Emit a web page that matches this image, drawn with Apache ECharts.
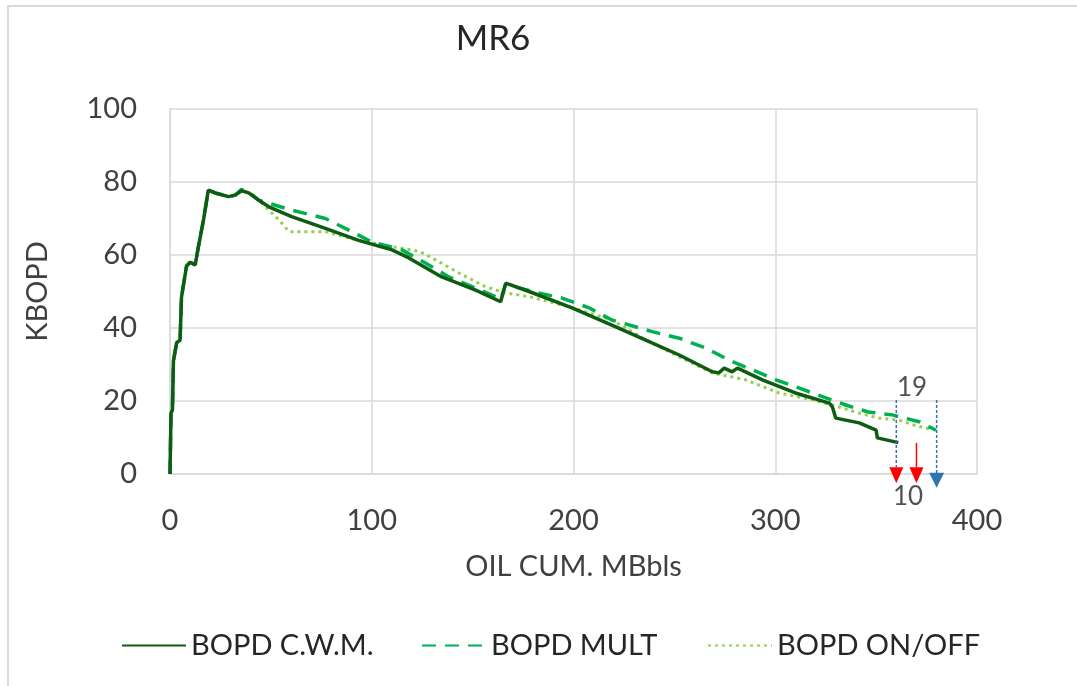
<!DOCTYPE html>
<html>
<head>
<meta charset="utf-8">
<title>MR6</title>
<script src="https://cdn.jsdelivr.net/npm/echarts@6/dist/echarts.min.js"></script>
<style>
  html, body { margin: 0; padding: 0; background: #ffffff; }
  #chart { width: 1077px; height: 686px; }
</style>
</head>
<body>
<div id="chart"></div>
<script>
// Oil rate (KBOPD) versus cumulative oil (MBbls) for well MR6, three allocation methods.
const seriesNames = ['BOPD C.W.M.', 'BOPD MULT', 'BOPD ON/OFF'];

const cwmData = [
  [0, 0], [0.5, 16.7], [1.2, 17.5], [1.7, 31], [3.3, 36], [5, 36.7], [5.7, 48.5], [8.2, 57],
  [10, 58], [12.5, 57.3], [14, 62], [16.6, 69.6], [19, 77.8], [22.4, 77], [29, 76], [32.3, 76.4],
  [35.5, 77.6], [39, 77], [44, 75], [49, 73.2], [60.3, 70.5], [77, 67.3], [93.5, 64], [110, 61.4],
  [118.4, 59.2], [134.7, 54], [151.5, 50.4], [163.9, 47.2], [166.4, 52.3], [178, 50], [199.3, 45.5],
  [219, 40.8], [235.8, 36.7], [252.4, 32.6], [268.8, 28], [272, 27.7], [274.7, 29], [278.6, 28],
  [281.3, 29], [293.6, 25.8], [310, 22.2], [326.8, 19.4], [328.3, 18.4], [330, 15.3], [341.6, 14],
  [350, 12], [350.6, 9.9], [361, 8.6]
];

const multData = [
  [0, 0], [0.5, 16.7], [1.2, 17.5], [1.7, 31], [3.3, 36], [5, 36.7], [5.7, 48.5], [8.2, 57],
  [10, 58], [12.5, 57.3], [14, 62], [16.6, 69.6], [19, 77.8], [22.4, 77], [29, 76], [32.3, 76.4],
  [35.5, 78], [39, 77.3], [44, 75], [60.3, 72.3], [77, 70], [88.6, 66.8], [100, 63.6], [114.9, 61.4],
  [126.6, 57.8], [138.2, 54], [150, 51.3], [161.4, 48.6], [164, 48], [166.4, 52], [179.5, 50],
  [194.3, 48.2], [207.8, 45.5], [219, 42.2], [239, 39], [252.4, 37.2], [265.6, 34.5], [277, 31.2],
  [288.8, 28.5], [300.3, 25.8], [312, 23.5], [323.4, 21.2], [335, 18.9], [346, 17], [358, 16.2],
  [371.4, 14.3], [379.7, 12]
];

const onOffData = [
  [0, 0], [0.5, 16.7], [1.2, 17.5], [1.7, 31], [3.3, 36], [5, 36.7], [5.7, 48.5], [8.2, 57],
  [10, 58], [12.5, 57.3], [14, 62], [16.6, 69.6], [19, 77.8], [22.4, 77], [29, 76], [32.3, 76.4],
  [35.5, 77.8], [39, 77], [44, 75], [54, 69.6], [59, 66.4], [77, 66.4], [93.5, 64], [110, 62.3],
  [123.6, 61], [131.9, 58.6], [143.4, 55], [156.4, 51.3], [166.4, 49.6], [178, 48.6], [197.8, 45.8],
  [219, 42.2], [236, 36.7], [252.4, 32.1], [268.8, 27.7], [285.4, 25.8], [301.9, 22.2], [318.5, 20.3],
  [328.3, 18.9], [341.6, 16.7], [351.6, 15.3], [361, 14.8], [370, 13.2], [378, 12.2]
];

// Tick values for both axes
const xTicks = [0, 100, 200, 300, 400];
const yTicks = [0, 20, 40, 60, 80, 100];

// Dotted blue guide lines: [cum. oil, top rate, bottom rate]
const guideLines = [[360, 20.3, 1.9], [380, 20.3, -0.3]];
// Red arrows: [cum. oil, shaft top, arrow tip]
const redArrows = [[360, 1.9, -2.5], [370, 8.5, -2.5]];
// Blue arrow: [cum. oil, shaft top, arrow tip]
const blueArrows = [[380, -0.3, -3.8]];

// Text annotations near the markers
const noteLabels = [
  { value: [367.8, 23.8], text: '19' },
  { value: [365.8, -6.3], text: '10' }
];

const FONT = 'Lato';
const TEXT = '#404040';
const GRID = '#d9d9d9';

const chart = echarts.init(document.getElementById('chart'), null, { renderer: 'canvas' });

const legendBase = {
  top: 626,
  itemWidth: 64,
  itemHeight: 3,
  itemGap: 0,
  itemStyle: { opacity: 0 },
  textStyle: { fontFamily: FONT, fontSize: 29, color: '#262626' }
};

// Vertical arrow: a shaft from the top value down to the head, then a filled triangle head.
function arrowRenderer(color, headW, headH, shaftW, dashed) {
  return function (params, api) {
    const top = api.coord([api.value(0), api.value(1)]);
    const tip = api.coord([api.value(0), api.value(2)]);
    const baseY = tip[1] - headH;
    const children = [];
    if (baseY > top[1]) {
      children.push({
        type: 'line',
        shape: { x1: top[0], y1: top[1], x2: top[0], y2: baseY },
        style: { stroke: color, lineWidth: shaftW, lineDash: dashed ? [3, 2] : null }
      });
    }
    children.push({
      type: 'polygon',
      shape: { points: [[tip[0] - headW / 2, baseY], [tip[0] + headW / 2, baseY], [tip[0], tip[1]]] },
      style: { fill: color }
    });
    return { type: 'group', children: children };
  };
}

function guideRenderer(params, api) {
  const top = api.coord([api.value(0), api.value(1)]);
  const bottom = api.coord([api.value(0), api.value(2)]);
  return {
    type: 'line',
    shape: { x1: top[0], y1: top[1], x2: bottom[0], y2: bottom[1] },
    style: { stroke: '#2E75B6', lineWidth: 1.5, lineDash: [3, 2] }
  };
}

chart.setOption({
  backgroundColor: '#ffffff',
  animation: false,
  title: {
    text: 'MR6',
    left: 488,
    top: 16,
    textAlign: 'center',
    textStyle: { fontFamily: FONT, fontSize: 35, fontWeight: 'normal', color: '#262626' }
  },
  graphic: [{
    type: 'rect',
    shape: { x: 8, y: 6, width: 1200, height: 800 },
    style: { fill: 'none', stroke: '#d9d9d9', lineWidth: 2 },
    silent: true,
    z: -1
  }],
  legend: [
    Object.assign({}, legendBase, { left: 116, data: [seriesNames[0]] }),
    Object.assign({}, legendBase, { left: 416, data: [seriesNames[1]] }),
    Object.assign({}, legendBase, { left: 702, data: [seriesNames[2]] })
  ],
  grid: { left: 170, right: 100, top: 109, bottom: 212, containLabel: false },
  xAxis: {
    type: 'value',
    min: xTicks[0],
    max: xTicks[xTicks.length - 1],
    interval: 100,
    name: 'OIL CUM. MBbls',
    nameLocation: 'middle',
    nameGap: 78,
    nameTextStyle: { fontFamily: FONT, fontSize: 29, color: TEXT },
    axisLine: { show: true, lineStyle: { color: GRID, width: 1.5 } },
    axisTick: { show: false },
    axisLabel: { fontFamily: FONT, fontSize: 29, color: TEXT, margin: 32 },
    splitLine: { show: true, lineStyle: { color: GRID, width: 1.5 } }
  },
  yAxis: {
    type: 'value',
    min: yTicks[0],
    max: yTicks[yTicks.length - 1],
    interval: 20,
    name: 'KBOPD',
    nameLocation: 'middle',
    nameGap: 118,
    nameTextStyle: { fontFamily: FONT, fontSize: 29, color: TEXT },
    axisLine: { show: true, lineStyle: { color: GRID, width: 1.5 } },
    axisTick: { show: false },
    axisLabel: { fontFamily: FONT, fontSize: 29, color: TEXT, margin: 33 },
    splitLine: { show: true, lineStyle: { color: GRID, width: 1.5 } }
  },
  series: [
    {
      name: seriesNames[2],
      type: 'line',
      data: onOffData,
      symbol: 'none',
      color: '#92D050',
      lineStyle: { color: '#92D050', width: 3, type: [3, 4] },
      z: 2
    },
    {
      name: seriesNames[1],
      type: 'line',
      data: multData,
      symbol: 'none',
      color: '#00B050',
      lineStyle: { color: '#00B050', width: 3.5, type: [14, 9] },
      z: 3
    },
    {
      name: seriesNames[0],
      type: 'line',
      data: cwmData,
      symbol: 'none',
      color: '#0E5C12',
      lineStyle: { color: '#0E5C12', width: 3.5 },
      z: 4
    },
    {
      name: 'guides',
      type: 'custom',
      data: guideLines,
      clip: false,
      silent: true,
      renderItem: guideRenderer,
      z: 5
    },
    {
      name: 'red arrows',
      type: 'custom',
      data: redArrows,
      clip: false,
      silent: true,
      renderItem: arrowRenderer('#FF0000', 14, 16, 1.5, false),
      z: 6
    },
    {
      name: 'blue arrows',
      type: 'custom',
      data: blueArrows,
      clip: false,
      silent: true,
      renderItem: arrowRenderer('#2E75B6', 15, 15, 1.5, true),
      z: 6
    },
    {
      name: 'notes',
      type: 'scatter',
      data: noteLabels.map(function (d) { return { value: d.value, name: d.text }; }),
      symbolSize: 0,
      clip: false,
      silent: true,
      label: {
        show: true,
        position: 'inside',
        formatter: '{b}',
        fontFamily: FONT,
        fontSize: 26,
        color: '#262626'
      },
      z: 7
    }
  ]
});
</script>
</body>
</html>
